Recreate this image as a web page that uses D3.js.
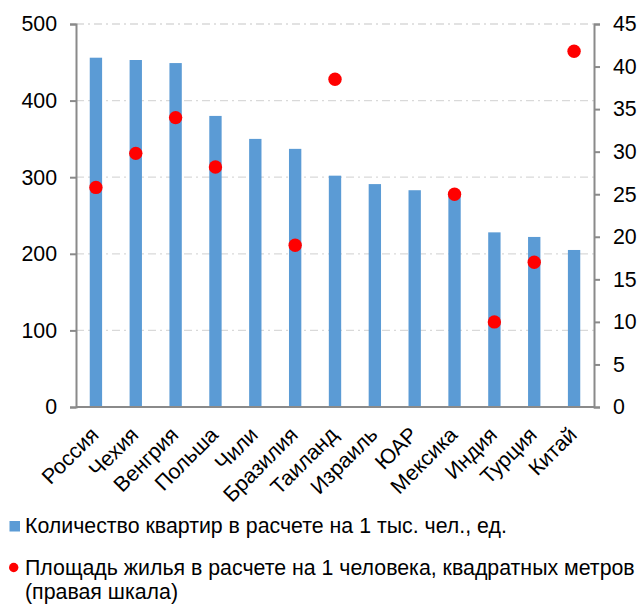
<!DOCTYPE html>
<html><head><meta charset="utf-8">
<script src="https://cdn.jsdelivr.net/npm/d3@7"></script>
<style>body{margin:0;background:#fff}svg{display:block;font-family:"Liberation Sans",Arial,sans-serif}</style>
</head><body>
<script>
const categories = ["Россия","Чехия","Венгрия","Польша","Чили","Бразилия","Таиланд","Израиль","ЮАР","Мексика","Индия","Турция","Китай"];
const flats = [456,453,449,380,350,337,302,291,283,278,228,222,205];
const area = [25.8,29.8,34.0,28.2,null,19.0,38.5,null,null,25.0,10.0,17.0,41.8];
const leftTicks = [0,100,200,300,400,500];
const rightTicks = [0,5,10,15,20,25,30,35,40,45];
const legendLabels = ["Количество квартир в расчете на 1 тыс. чел., ед.","Площадь жилья в расчете на 1 человека, квадратных метров","(правая шкала)"];

const W=638,H=605, L=76, R=594, T=24, B=407, FS=21.33;
const svg=d3.select("body").append("svg").attr("width",W).attr("height",H);
const x=d3.scaleBand().domain(categories).range([L,R]).paddingInner(0.69).paddingOuter(0.345);
const y=d3.scaleLinear().domain([0,500]).range([B,T]);
const y2=d3.scaleLinear().domain([0,45]).range([B,T]);

// gridlines
svg.append("g").selectAll("line").data(leftTicks.filter(d=>d>0)).join("line")
  .attr("x1",L).attr("x2",R).attr("y1",d=>y(d)).attr("y2",d=>y(d))
  .attr("stroke","#d9d9d9").attr("stroke-width",1.3).attr("stroke-dasharray","8,4,2,4");

// bars
svg.append("g").selectAll("rect").data(categories).join("rect")
  .attr("x",d=>x(d)).attr("width",x.bandwidth())
  .attr("y",(d,i)=>y(flats[i])).attr("height",(d,i)=>B-y(flats[i]))
  .attr("fill","#5b9bd5");

// axes
const axL=svg.append("g").attr("transform",`translate(${L},0)`)
  .call(d3.axisLeft(y).tickValues(leftTicks).tickSize(6).tickPadding(13));
const axR=svg.append("g").attr("transform",`translate(${R},0)`)
  .call(d3.axisRight(y2).tickValues(rightTicks).tickSize(6).tickPadding(13));
const axB=svg.append("g").attr("transform",`translate(0,${B})`)
  .call(d3.axisBottom(x).tickSize(0).tickSizeOuter(0));
[axL,axR,axB].forEach(a=>{
  a.selectAll("path,line").attr("stroke","#8a8a8a").attr("stroke-width",2);
  a.selectAll("text").attr("font-size",FS).attr("fill","#000").attr("font-family","Liberation Sans, Arial, sans-serif");
});
axB.select("path").attr("d",`M${L},0H${R}`);
axB.selectAll("text").attr("text-anchor","end").attr("y",0).attr("dy",0)
  .attr("transform","translate(4,29) rotate(-45)");

// dots
svg.append("g").selectAll("circle").data(categories.filter((d,i)=>area[i]!=null)).join("circle")
  .attr("cx",d=>x(d)+x.bandwidth()/2).attr("cy",d=>y2(area[categories.indexOf(d)]))
  .attr("r",6.7).attr("fill","#ff0000");

// legend
const lg=svg.append("g").attr("font-size",FS);
lg.append("rect").attr("x",9.5).attr("y",521).attr("width",10.5).attr("height",10.5).attr("fill","#5b9bd5");
lg.append("text").attr("x",25).attr("y",533).text(legendLabels[0]);
lg.append("circle").attr("cx",13.7).attr("cy",567.5).attr("r",4.7).attr("fill","#ff0000");
lg.append("text").attr("x",25).attr("y",575).text(legendLabels[1]);
lg.append("text").attr("x",25).attr("y",599).text(legendLabels[2]);
</script>
</body></html>
